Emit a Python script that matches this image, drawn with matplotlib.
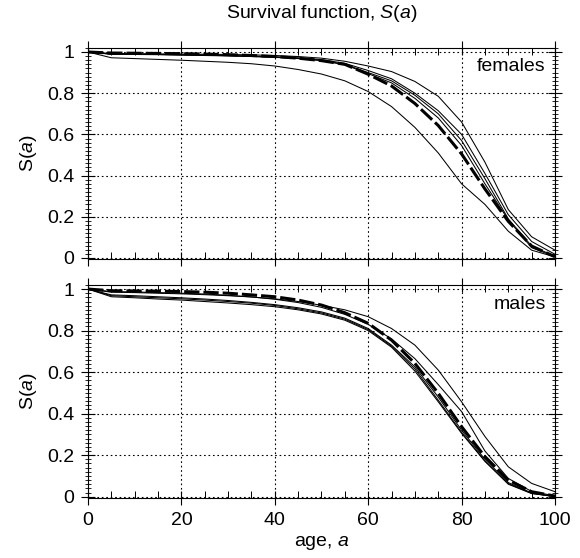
import matplotlib
matplotlib.use('Agg')
import matplotlib.pyplot as plt
import numpy as np
from matplotlib.ticker import MultipleLocator

plt.rcParams['font.family'] = ['Liberation Sans', 'DejaVu Sans']
plt.rcParams['mathtext.fontset'] = 'custom'
plt.rcParams['mathtext.rm'] = 'Liberation Sans'
plt.rcParams['mathtext.it'] = 'Liberation Sans:italic'

# ages 0,5,...,100
age = [0, 5, 10, 15, 20, 25, 30, 35, 40, 45, 50, 55, 60, 65, 70, 75, 80, 85, 90, 95, 100]

# females: thin curves (single countries) and dashed mean
f1 = [1, 0.993, 0.992, 0.991, 0.990, 0.989, 0.988, 0.986, 0.983, 0.978, 0.970, 0.955, 0.932, 0.905, 0.857, 0.785, 0.660, 0.465, 0.235, 0.103, 0.038]
f2 = [1, 0.990, 0.989, 0.988, 0.987, 0.985, 0.983, 0.980, 0.977, 0.972, 0.963, 0.945, 0.910, 0.870, 0.800, 0.715, 0.600, 0.410, 0.210, 0.080, 0.018]
f3 = [1, 0.990, 0.989, 0.988, 0.986, 0.984, 0.982, 0.979, 0.975, 0.969, 0.960, 0.940, 0.900, 0.860, 0.790, 0.700, 0.570, 0.385, 0.190, 0.058, 0.008]
f4 = [1, 0.989, 0.988, 0.987, 0.985, 0.983, 0.981, 0.978, 0.974, 0.968, 0.958, 0.938, 0.895, 0.850, 0.775, 0.680, 0.546, 0.360, 0.185, 0.050, 0.006]
f5 = [1, 0.972, 0.968, 0.964, 0.960, 0.955, 0.950, 0.943, 0.932, 0.915, 0.893, 0.860, 0.808, 0.735, 0.634, 0.510, 0.360, 0.260, 0.130, 0.038, 0.005]
f_mean = [1, 0.995, 0.994, 0.993, 0.992, 0.990, 0.987, 0.983, 0.978, 0.970, 0.958, 0.940, 0.892, 0.835, 0.750, 0.643, 0.505, 0.335, 0.178, 0.058, 0.006]

# males
m1 = [1, 0.985, 0.983, 0.980, 0.977, 0.973, 0.968, 0.962, 0.953, 0.940, 0.922, 0.900, 0.867, 0.810, 0.730, 0.610, 0.457, 0.290, 0.144, 0.064, 0.024]
m2 = [1, 0.988, 0.986, 0.983, 0.980, 0.976, 0.970, 0.962, 0.951, 0.935, 0.912, 0.878, 0.830, 0.760, 0.665, 0.540, 0.410, 0.220, 0.088, 0.025, 0.004]
m3 = [1, 0.972, 0.968, 0.963, 0.958, 0.952, 0.945, 0.936, 0.925, 0.910, 0.890, 0.860, 0.810, 0.730, 0.625, 0.480, 0.320, 0.180, 0.068, 0.018, 0.002]
m4 = [1, 0.968, 0.963, 0.958, 0.953, 0.947, 0.940, 0.932, 0.921, 0.905, 0.885, 0.855, 0.805, 0.725, 0.615, 0.465, 0.310, 0.172, 0.063, 0.016, 0.001]
m5 = [1, 0.963, 0.958, 0.952, 0.947, 0.940, 0.933, 0.925, 0.915, 0.900, 0.880, 0.850, 0.800, 0.720, 0.605, 0.457, 0.305, 0.170, 0.060, 0.015, 0.001]
m_mean = [1, 0.992, 0.991, 0.990, 0.988, 0.985, 0.980, 0.972, 0.963, 0.947, 0.923, 0.886, 0.835, 0.754, 0.642, 0.498, 0.337, 0.193, 0.080, 0.024, 0.003]

fig = plt.figure(figsize=(5.8, 5.58), dpi=100)
ax1 = fig.add_axes([0.1517, 0.5358, 0.8052, 0.3784])
ax2 = fig.add_axes([0.1517, 0.1080, 0.8052, 0.3814])


def panel(ax, thin, mean, name):
    for s in thin:
        ax.plot(age, s, color='black', lw=0.75)
    ax.plot(age, mean, color='black', lw=2.2, linestyle=(0, (5, 1.3)))
    ax.set_xlim(0, 100)
    ax.set_ylim(-0.005, 1.02)
    ax.xaxis.set_major_locator(MultipleLocator(20))
    ax.xaxis.set_minor_locator(MultipleLocator(5))
    ax.yaxis.set_major_locator(MultipleLocator(0.2))
    ax.yaxis.set_minor_locator(MultipleLocator(0.02))
    ax.yaxis.set_major_formatter(plt.FuncFormatter(lambda v, p: '%g' % round(v, 1)))
    ax.grid(True, which='major', color='black', lw=0.8, linestyle=(0, (1.5, 2.5)))
    ax.tick_params(which='major', direction='inout', length=10, width=0.8,
                   top=True, right=True, labelsize=14, pad=5)
    ax.tick_params(axis='x', which='minor', direction='in', length=5, width=0.7,
                   top=True, bottom=True)
    ax.tick_params(axis='y', which='minor', direction='inout', length=5, width=0.6,
                   left=True, right=True)
    for sp in ax.spines.values():
        sp.set_linewidth(0.8)
    ax.set_ylabel('S($\\it{a}$)', fontsize=14)
    ax.yaxis.set_label_coords(-0.105, 0.5)
    ax.text(0.98, 0.91, name, transform=ax.transAxes, ha='right', va='center',
            fontsize=14)


panel(ax1, [f1, f2, f3, f4, f5], f_mean, 'females')
panel(ax2, [m1, m2, m3, m4, m5], m_mean, 'males')

ax1.tick_params(axis='x', labelbottom=False)
ax2.set_xlabel('age, $\\it{a}$', fontsize=14)
ax2.xaxis.set_label_coords(0.5, -0.17)

fig.text(0.555, 1 - 14 / 558, 'Survival function, $\\it{S}$($\\it{a}$)',
         ha='center', va='center', fontsize=14)

fig.savefig('out.png', dpi=100)
